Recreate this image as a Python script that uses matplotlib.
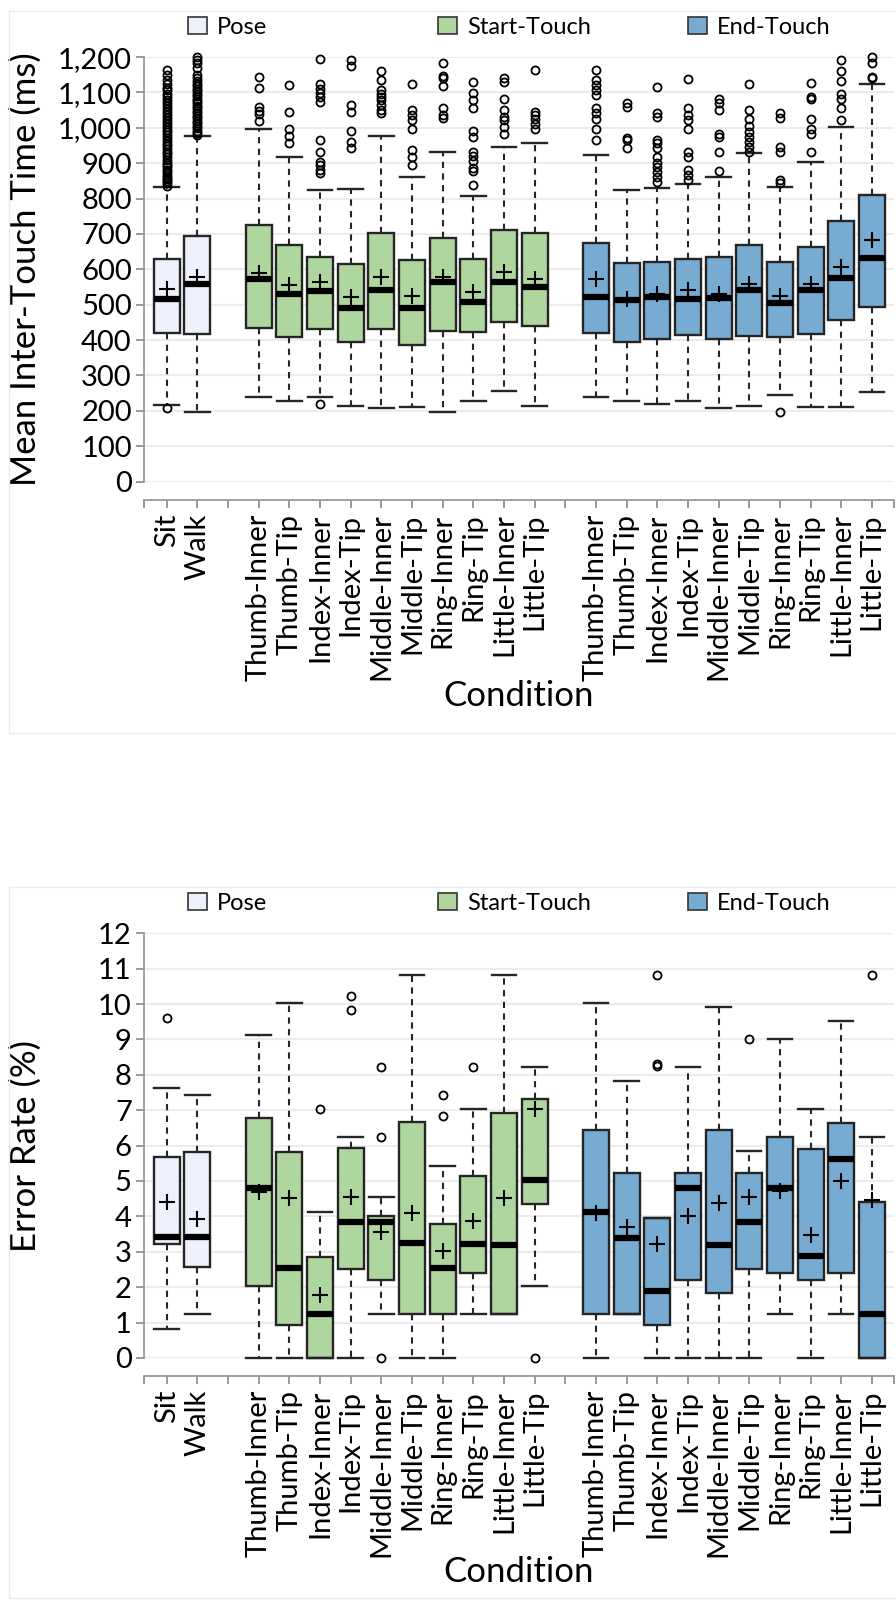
import numpy as np
import matplotlib.pyplot as plt
from matplotlib.patches import Patch, Rectangle
from matplotlib.ticker import StrMethodFormatter

plt.rcParams['font.family'] = ['Lato', 'DejaVu Sans']

# conditions, grouped by technique
labels = ['Sit', 'Walk',
          'Thumb-Inner', 'Thumb-Tip', 'Index-Inner', 'Index-Tip', 'Middle-Inner',
          'Middle-Tip', 'Ring-Inner', 'Ring-Tip', 'Little-Inner', 'Little-Tip',
          'Thumb-Inner', 'Thumb-Tip', 'Index-Inner', 'Index-Tip', 'Middle-Inner',
          'Middle-Tip', 'Ring-Inner', 'Ring-Tip', 'Little-Inner', 'Little-Tip']
groups = ['Pose'] * 2 + ['Start-Touch'] * 10 + ['End-Touch'] * 10
group_names = ['Pose', 'Start-Touch', 'End-Touch']
group_colors = {'Pose': '#eef0fc', 'Start-Touch': '#aed69e', 'End-Touch': '#78abd2'}

# mean inter-touch time (ms)
it_lo = [217, 196, 238, 229, 240, 215, 208, 212, 196, 229, 255, 213,
         239, 229, 218, 229, 208, 213, 245, 212, 212, 253]
it_q1 = [421, 416, 434, 410, 432, 394, 431, 385, 427, 423, 450, 439,
         421, 394, 404, 415, 402, 413, 408, 418, 456, 493]
it_med = [517, 558, 572, 531, 539, 491, 542, 491, 564, 508, 564, 550,
          522, 512, 522, 515, 519, 543, 506, 541, 576, 633]
it_q3 = [628, 695, 724, 670, 634, 616, 704, 626, 689, 629, 710, 703,
         675, 619, 620, 630, 634, 670, 621, 662, 736, 811]
it_hi = [833, 976, 998, 918, 824, 826, 976, 860, 932, 808, 946, 956,
         924, 824, 831, 842, 861, 929, 832, 904, 1002, 1123]
it_mean = [545, 578, 591, 555, 564, 522, 578, 526, 578, 536, 592, 574,
           574, 517, 531, 541, 531, 559, 526, 558, 607, 684]
it_fliers = [
    [208, 836, 843, 849, 855, 862, 868, 874, 881, 888, 895, 902, 910, 917, 925,
     932, 940, 948, 955, 963, 971, 979, 987, 995, 1003, 1011, 1020, 1028, 1036,
     1045, 1053, 1061, 1070, 1078, 1088, 1097, 1106, 1114, 1123, 1136, 1150, 1163],
    [980, 986, 992, 999, 1006, 1013, 1020, 1027, 1034, 1041, 1048, 1055, 1062,
     1069, 1076, 1083, 1090, 1097, 1104, 1111, 1118, 1125, 1133, 1141, 1150,
     1168, 1182, 1192, 1199],
    [1020, 1040, 1048, 1058, 1114, 1144],
    [956, 976, 998, 1045, 1121],
    [218, 871, 880, 894, 904, 932, 965, 1074, 1088, 1099, 1111, 1124, 1195],
    [942, 960, 991, 1045, 1064, 1175, 1192],
    [1041, 1050, 1064, 1078, 1088, 1097, 1108, 1135, 1161],
    [894, 918, 937, 998, 1022, 1036, 1050, 1123],
    [1027, 1036, 1055, 1118, 1140, 1146, 1184],
    [838, 877, 887, 907, 920, 932, 975, 992, 1057, 1080, 1099, 1129],
    [984, 1003, 1022, 1031, 1050, 1083, 1130, 1140],
    [998, 1010, 1024, 1036, 1045, 1163],
    [965, 998, 1026, 1041, 1055, 1094, 1107, 1121, 1135, 1163],
    [942, 965, 972, 1059, 1069],
    [847, 861, 875, 890, 902, 918, 942, 956, 965, 1031, 1041, 1116],
    [852, 868, 880, 918, 932, 998, 1022, 1036, 1055, 1138],
    [878, 932, 973, 984, 1050, 1069, 1083],
    [932, 947, 960, 975, 989, 1005, 1026, 1050, 1124],
    [196, 843, 852, 932, 947, 1027, 1041],
    [932, 984, 998, 1026, 1083, 1088, 1127],
    [1022, 1055, 1083, 1097, 1133, 1161, 1192],
    [1140, 1144, 1182, 1199],
]

# error rate (%)
er_lo = [0.83, 1.23, 0, 0, 0, 0, 1.23, 0, 0, 1.23, 1.23, 2.03,
         0, 1.23, 0, 0, 0, 0, 1.23, 0, 1.23, 0]
er_q1 = [3.21, 2.57, 2.02, 0.92, 0, 2.52, 2.19, 1.23, 1.23, 2.41, 1.23, 4.35,
         1.23, 1.23, 0.92, 2.19, 1.83, 2.52, 2.41, 2.19, 2.41, 0]
er_med = [3.43, 3.43, 4.79, 2.53, 1.23, 3.83, 3.83, 3.24, 2.53, 3.23, 3.18, 5.04,
          4.13, 3.38, 1.88, 4.79, 3.18, 3.83, 4.79, 2.88, 5.63, 1.23]
er_q3 = [5.68, 5.83, 6.77, 5.83, 2.84, 5.92, 4.02, 6.66, 3.78, 5.15, 6.92, 7.33,
         6.43, 5.23, 3.95, 5.23, 6.43, 5.23, 6.25, 5.89, 6.64, 4.42]
er_hi = [7.64, 7.44, 9.12, 10.02, 4.12, 6.25, 4.54, 10.82, 5.43, 7.04, 10.82, 8.22,
         10.02, 7.82, 3.95, 8.22, 9.93, 5.84, 9.02, 7.04, 9.52, 6.24]
er_mean = [4.42, 3.92, 4.68, 4.51, 1.77, 4.55, 3.55, 4.09, 3.03, 3.88, 4.52, 7.04,
           4.10, 3.69, 3.23, 4.02, 4.38, 4.55, 4.71, 3.48, 5.01, 4.47]
er_fliers = [[9.62], [], [], [], [7.04], [9.83, 10.22], [0, 6.24, 8.22], [],
             [6.85, 7.44], [8.23], [], [0],
             [], [], [8.25, 8.30, 10.82], [], [], [9.02], [], [], [], [10.82]]

# slot positions, one empty slot between groups
pos = []
p = 0
for i, g in enumerate(groups):
    if i > 0 and g != groups[i - 1]:
        p += 1
    pos.append(p)
    p += 1
n_slots = p
tick_labels = [''] * n_slots
for pp, lab in zip(pos, labels):
    tick_labels[pp] = lab
xmin, xmax = -0.73, n_slots - 0.28

fig = plt.figure(figsize=(8.96, 16), dpi=100)
ax1 = fig.add_axes([0.161, 0.699, 0.8367, 0.2653])
ax2 = fig.add_axes([0.161, 0.1513, 0.8367, 0.2654])


def draw_panel(ax, lo, q1, med, q3, hi, mean, fliers, ylabel, ymax, ystep, fmt):
    stats = []
    for i in range(len(labels)):
        stats.append(dict(whislo=lo[i], q1=q1[i], med=med[i], q3=q3[i],
                          whishi=hi[i], mean=mean[i], fliers=fliers[i]))
    art = ax.bxp(stats, positions=pos, widths=0.85, capwidths=0.8,
                 patch_artist=True, showmeans=True, manage_ticks=False,
                 boxprops=dict(edgecolor='#252525', linewidth=1.7),
                 medianprops=dict(color='black', linewidth=4.5, solid_capstyle='butt'),
                 whiskerprops=dict(color='#252525', linewidth=1.5, linestyle=(0, (3, 2.6))),
                 capprops=dict(color='#252525', linewidth=1.7),
                 meanprops=dict(marker='+', markersize=11, markeredgewidth=1.5,
                                markeredgecolor='black'),
                 flierprops=dict(marker='o', markersize=5.8, markerfacecolor='none',
                                 markeredgecolor='black', markeredgewidth=1.3))
    for box, g in zip(art['boxes'], groups):
        box.set_facecolor(group_colors[g])
    for k in art:
        for a in art[k]:
            a.set_clip_on(False)

    ax.set_xlim(xmin, xmax)
    ax.set_ylim(0, ymax)
    ax.set_yticks(np.arange(0, ymax + ystep / 2, ystep))
    ax.yaxis.set_major_formatter(StrMethodFormatter(fmt))
    ax.set_xticks(range(n_slots), labels=tick_labels)
    ax.set_xticks([xmin, xmax], minor=True)
    ax.tick_params(axis='x', which='both', length=6, width=1.2, color='#888888', pad=4,
                   labelrotation=90, labelsize=21)
    ax.tick_params(axis='y', length=6, width=1.2, color='#888888', labelsize=21, pad=3)

    for s in ['top', 'right']:
        ax.spines[s].set_visible(False)
    for s in ['left', 'bottom']:
        ax.spines[s].set_color('#999999')
        ax.spines[s].set_linewidth(1.3)
    ax.spines['bottom'].set_position(('outward', 13))

    ax.yaxis.grid(True, color='#ececec', linewidth=1.5)
    ax.set_axisbelow(True)

    ax.set_ylabel(ylabel, fontsize=25)
    ax.yaxis.set_label_coords(-0.136, 0.5)
    ax.set_xlabel('Condition', fontsize=25)
    ax.xaxis.set_label_coords(0.5, -0.467)


draw_panel(ax1, it_lo, it_q1, it_med, it_q3, it_hi, it_mean, it_fliers,
           'Mean Inter-Touch Time (ms)', 1200, 100, '{x:,.0f}')
draw_panel(ax2, er_lo, er_q1, er_med, er_q3, er_hi, er_mean, er_fliers,
           'Error Rate (%)', 12, 1, '{x:.0f}')

# legends above each panel
legend_x = [0.2098, 0.4888, 0.7679]
for ly in [0.983, 0.4356]:
    for x, g in zip(legend_x, group_names):
        fig.legend(handles=[Patch(facecolor=group_colors[g], edgecolor='#333333',
                                  linewidth=1.2, label=g)],
                   loc='center left', bbox_to_anchor=(x, ly), frameon=False,
                   fontsize=17, handlelength=0.8, handleheight=0.75,
                   handletextpad=0.42, borderpad=0, borderaxespad=0)

# light panel frames
fig.add_artist(Rectangle((0.0095, 1 - 733 / 1600), 1.0, 722 / 1600,
                         transform=fig.transFigure, fill=False,
                         edgecolor='#ebebeb', linewidth=1))
fig.add_artist(Rectangle((0.0095, 1 - 1598 / 1600), 1.0, 711 / 1600,
                         transform=fig.transFigure, fill=False,
                         edgecolor='#ebebeb', linewidth=1))

fig.savefig('out.png', dpi=100)
